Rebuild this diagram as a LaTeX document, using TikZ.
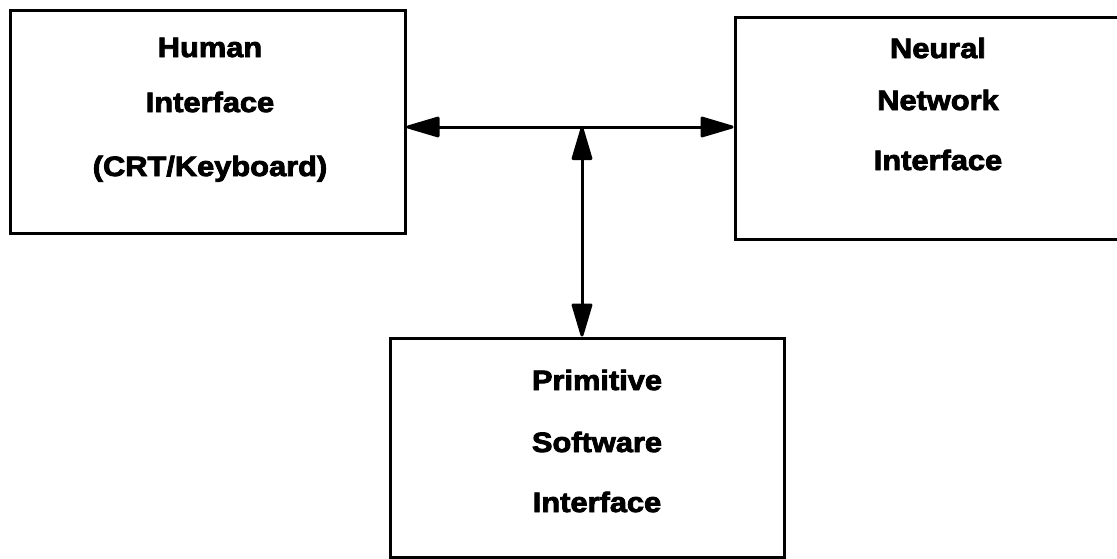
\documentclass[tikz,border=0pt]{standalone}
\usepackage{fontspec}
\newfontfamily\lab[FakeStretch=1.1,FakeBold=3]{Liberation Sans}
\usetikzlibrary{arrows.meta}
\begin{document}
\begin{tikzpicture}[x=1pt,y=-1pt,
  box/.style={draw=black,line width=3pt,minimum width=#1,inner sep=0pt},
  lbl/.style={anchor=base,inner sep=0pt,font=\lab\bfseries\fontsize{28}{30}\selectfont},
  conn/.style={line width=3pt,{Triangle[length=37pt,width=21pt,round]}-{Triangle[length=37pt,width=21pt,round]}}]
\useasboundingbox (0,0) rectangle (1117,558);
\node[box=395pt,minimum height=223pt] (hum) at (207.5,121.5) {};
\node[box=400pt,minimum height=222pt] (nn) at (935,128) {};
\node[box=394pt,minimum height=219pt] (prim) at (587,447.5) {};
\coordinate (j) at (582,127);
\node[lbl] (h1) at (210,57) {Human};
\node[lbl] (h2) at (210,112) {Interface};
\node[lbl] (h3) at (210,176) {(CRT/Keyboard)};
\node[lbl] (n1) at (938,58) {Neural};
\node[lbl] (n2) at (938,110) {Network};
\node[lbl] (n3) at (938,170) {Interface};
\node[lbl] (p1) at (597,390) {Primitive};
\node[lbl] (p2) at (597,452) {Software};
\node[lbl] (p3) at (597,512) {Interface};
\draw[conn] (hum.east |- j) -- (nn.west |- j);
\draw[conn] (j) -- (j |- prim.north);
\end{tikzpicture}
\end{document}
